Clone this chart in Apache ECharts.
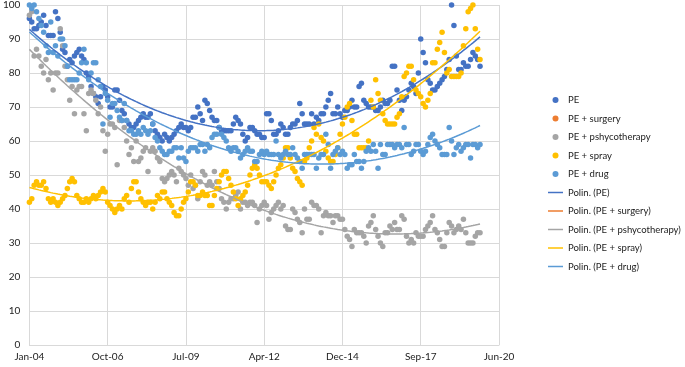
<!DOCTYPE html>
<html>
<head>
<meta charset="utf-8">
<script src="https://cdn.jsdelivr.net/npm/echarts@6/dist/echarts.min.js"></script>
<style>
  html, body { margin: 0; padding: 0; background: #fff; }
  #chart { width: 685px; height: 367px; }
</style>
</head>
<body>
<div id="chart"></div>
<script>
// x = months since Jan-04, one point per month
var xLabels = ['Jan-04', 'Oct-06', 'Jul-09', 'Apr-12', 'Dec-14', 'Sep-17', 'Jun-20'];

var pe = [
    96,95,93,93,94,95,97,94,91,91, 91,98,96,92,87,86,82,84,83,85, 86,
    87,85,84,80,79,76,74,73,71,73, 76,75,73,70,70,75,75,72,69,68, 66,65,64,64,65,
    66,67,68,67,67,68,65,63,62,61, 60,62,61,60,61,62,63,64,65,64, 64,63,64,67,67,
    70,68,66,72,71,69,67,66,66,64, 63,63,63,63,63,65,67,66,65,62, 60,61,64,64,63,
    62,62,61,61,68,68,66,62,62,63, 65,64,62,62,64,65,65,66,71,68, 65,65,65,68,65,
    67,66,68,68,70,72,74,68,68,70, 68,67,69,69,70,72,70,70,76,77, 72,71,70,70,70,
    69,69,70,72,71,71,72,82,82,75, 72,69,72,73,75,77,76,74,80,90, 86,83,78,77,75,
    75,76,77,78,79,81,84,100,94,85, 81,81,83,82,82,84,86,85,84,82
];
var peSurgery = [];
var pePsycho = [
    97,98,85,87,85,82,80,84,78,80, 75,80,80,93,88,82,78,72,76,68, 75,
    76,76,68,63,74,75,74,72,68,70, 63,57,62,65,65,64,53,66,66,64, 60,56,58,54,60,
    54,55,57,58,51,57,58,57,55,54, 49,48,49,50,51,50,48,52,51,50, 49,47,50,46,47,
    43,48,51,50,47,48,47,51,48,46, 43,42,40,42,43,43,44,45,40,42, 42,41,42,42,41,
    36,40,41,42,41,37,39,40,41,42, 40,41,35,34,34,40,39,37,36,33, 40,37,37,42,41,
    41,40,33,38,39,38,38,36,38,38, 37,37,34,32,31,29,34,33,33,33, 32,30,35,36,38,
    34,32,30,29,33,33,35,34,36,34, 34,38,37,32,30,31,30,33,32,32, 32,34,35,36,38,
    34,33,31,29,29,33,36,35,33,34, 35,34,37,33,30,30,30,32,33,33
];
var peSpray = [
    42,43,47,48,47,47,48,46,43,42, 43,42,41,42,43,44,46,48,49,48, 44,
    43,42,42,43,42,43,44,43,44,45, 46,45,42,41,40,39,40,41,40,43, 44,42,46,48,48,
    45,43,42,41,42,42,40,42,44,43, 45,45,43,42,41,39,38,38,40,42, 43,45,48,48,47,
    44,44,45,44,44,41,41,44,46,48, 50,51,51,49,47,45,43,41,43,44, 45,47,50,52,53,
    52,50,48,48,48,47,46,48,50,52, 53,55,58,58,55,52,51,49,48,47, 54,55,58,60,64,
    62,65,61,60,57,55,54,54,56,58, 62,65,67,70,71,66,62,62,58,58, 58,58,60,72,70,
    78,74,72,68,66,65,65,65,65,67, 68,73,79,80,82,82,78,75,74,73, 71,70,72,74,83,
    83,87,89,92,86,80,81,79,79,79, 79,80,88,93,98,99,100,93,87,84
];
var peDrug = [
    100,99,100,98,96,94,92,88,86,95, 86,88,85,90,90,88,82,78,78,78, 78,
    80,83,87,83,78,80,83,83,78,76, 65,74,72,67,71,71,69,67,66,71, 66,63,63,62,62,
    63,62,64,63,62,63,65,61,60,58, 57,56,56,57,57,58,58,55,58,55, 54,57,58,58,58,
    57,59,59,57,59,58,61,62,62,64, 62,61,60,58,57,58,58,57,55,56, 57,58,57,57,54,
    54,56,57,56,57,56,56,56,60,56, 55,56,57,56,56,58,56,55,54,52, 56,56,56,56,56,
    52,55,56,56,62,59,52,56,57,58, 56,57,56,52,53,53,56,54,54,52, 54,57,58,57,59,
    57,52,59,56,56,59,59,59,58,59, 59,58,64,59,59,56,57,59,59,57, 56,57,59,61,62,
    60,59,58,56,56,56,64,60,56,58, 59,57,58,59,59,55,59,59,58,59
];

var names = ['PE', 'PE + surgery', 'PE + pshycotherapy', 'PE + spray', 'PE + drug'];
var colors = ['#4472C4', '#ED7D31', '#A5A5A5', '#FFC000', '#5B9BD5'];
var allData = [pe, peSurgery, pePsycho, peSpray, peDrug];

// Excel style order-2 polynomial trendline (least squares)
function polyTrend(vals) {
    if (!vals.length) return [];
    var s = [0, 0, 0, 0, 0], t = [0, 0, 0];
    vals.forEach(function (y, x) {
        var p = 1;
        for (var k = 0; k <= 4; k++) {
            s[k] += p;
            if (k <= 2) t[k] += y * p;
            p *= x;
        }
    });
    var m = [[s[0], s[1], s[2], t[0]], [s[1], s[2], s[3], t[1]], [s[2], s[3], s[4], t[2]]];
    for (var i = 0; i < 3; i++) {
        for (var j = i + 1; j < 3; j++) {
            var f = m[j][i] / m[i][i];
            for (var k = i; k < 4; k++) m[j][k] -= f * m[i][k];
        }
    }
    var c = [0, 0, 0];
    for (var i = 2; i >= 0; i--) {
        var v = m[i][3];
        for (var k = i + 1; k < 3; k++) v -= m[i][k] * c[k];
        c[i] = v / m[i][i];
    }
    return vals.map(function (y, x) { return [x, c[0] + c[1] * x + c[2] * x * x]; });
}

var chart = echarts.init(document.getElementById('chart'));

var series = [];
allData.forEach(function (d, i) {
    series.push({
        name: names[i],
        type: 'scatter',
        symbolSize: 5.5,
        itemStyle: { color: colors[i], opacity: 1 },
        data: d.map(function (v, x) { return [x, v]; })
    });
});
allData.forEach(function (d, i) {
    series.push({
        name: 'Polin. (' + names[i] + ')',
        type: 'line',
        symbol: 'none',
        showSymbol: false,
        lineStyle: { color: colors[i], width: 1.5 },
        itemStyle: { color: colors[i] },
        data: polyTrend(d),
        z: 3
    });
});

// scatter items keep a dot, trendline items get a thin line icon
var lineIcon = 'path://M0,0H20V2H0Z';
var legendData = names.map(function (n) {
    return { name: n, icon: 'circle' };
}).concat(names.map(function (n) {
    return { name: 'Polin. (' + n + ')', icon: lineIcon };
}));

var option = {
    animation: false,
    textStyle: { fontFamily: 'Lato, "Open Sans", sans-serif' },
    grid: { left: 26, right: 186, top: 4, bottom: 22 },
    legend: {
        orient: 'vertical',
        left: 548,
        top: 94,
        padding: 0,
        itemWidth: 15,
        itemHeight: 6,
        itemGap: 6.5,
        data: legendData,
        textStyle: { fontSize: 9.5, color: '#222', lineHeight: 12 }
    },
    xAxis: {
        type: 'value',
        min: 0,
        max: 198,
        interval: 33,
        axisLine: { show: true, lineStyle: { color: '#d9d9d9' } },
        axisTick: { show: false },
        splitLine: { show: true, lineStyle: { color: '#d9d9d9' } },
        axisLabel: {
            color: '#222',
            fontSize: 10,
            margin: 7,
            formatter: function (v) { return xLabels[Math.round(v / 33)]; }
        }
    },
    yAxis: {
        type: 'value',
        min: 0,
        max: 100,
        interval: 10,
        axisLine: { show: false },
        axisTick: { show: false },
        splitLine: { show: true, lineStyle: { color: '#d9d9d9' } },
        axisLabel: { color: '#222', fontSize: 10, margin: 9 }
    },
    series: series
};

chart.setOption(option);
</script>
</body>
</html>
